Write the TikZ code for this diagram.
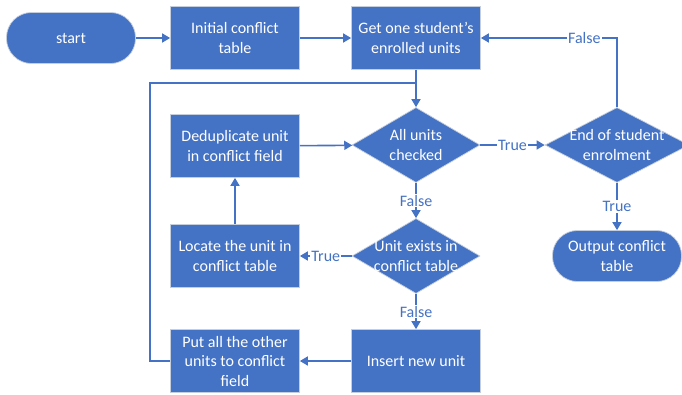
\documentclass[tikz,border=0pt]{standalone}
\usepackage{fontspec}
\setmainfont{Carlito}
\usepackage{tikz}
\usetikzlibrary{shapes.geometric,arrows.meta}
\definecolor{flowblue}{HTML}{4472C4}
\definecolor{boxedge}{HTML}{C5CEDC}
\newcommand{\flowfont}{\fontsize{16}{19.5}\selectfont}
\tikzset{>={Triangle[length=8pt,width=9pt]}}
\tikzset{
  procbox/.style={rectangle,fill=flowblue,draw=boxedge,line width=0.7pt,
    minimum width=129pt,minimum height=63pt,inner sep=2pt,
    text=white,align=center,font=\flowfont},
  terminal/.style={procbox,rounded corners=25pt,minimum height=51pt},
  decision/.style={diamond,fill=flowblue,draw=boxedge,line width=0.7pt,
    inner sep=0pt,minimum width=128pt,minimum height=75pt},
  diamtext/.style={text=white,align=center,font=\flowfont,inner sep=0pt},
  flowline/.style={draw=flowblue,line width=1.6pt},
  condlabel/.style={fill=white,text=flowblue,font=\flowfont,inner sep=1pt}
}

\begin{document}
\begin{tikzpicture}[x=1pt,y=-1pt]
    \useasboundingbox (0,0) rectangle (682,394);
    % top row
    \node[terminal] (start) at (71,38) {start};
    \node[procbox] (init) at (235,38) {Initial conflict\\table};
    \node[procbox] (getunits) at (416,38) {Get one student’s\\enrolled units};
    % checks
    \node[decision,label={[diamtext]center:{All units\\checked}}] (allchk) at (416,145) {};
    \node[decision,minimum width=144pt,label={[diamtext]center:{End of student\\enrolment}}] (endenrol) at (617,145) {};
    \node[decision,label={[diamtext]center:{Unit exists in\\conflict table}}] (exists) at (416,256) {};
    % left column
    \node[procbox] (dedup) at (235,146) {Deduplicate unit\\in conflict field};
    \node[procbox] (locate) at (235,256) {Locate the unit in\\conflict table};
    \node[procbox] (putall) at (235,361) {Put all the other\\units to conflict\\field};
    \node[procbox] (insert) at (416,361) {Insert new unit};
    \node[terminal] (output) at (617,256) {Output conflict\\table};
    \coordinate (loopcorner) at (150,83);
    \coordinate (loopjoin) at (416,83);

    \draw[flowline,->] (start) -- (init);
    \draw[flowline,->] (init) -- (getunits);
    \draw[flowline] (putall.west) -| (loopcorner) -- (loopjoin);
    \draw[flowline,->] (getunits) -- (allchk);
    \draw[flowline,->] (dedup) -- (allchk);
    \draw[flowline,->] (allchk) -- node[condlabel] {True} (endenrol);
    \draw[flowline,->] (endenrol.north) |- node[condlabel,pos=0.62] {False} (getunits.east);
    \draw[flowline,->] (endenrol) -- node[condlabel] {True} (output);
    \draw[flowline,->] (allchk) -- node[condlabel] {False} (exists);
    \draw[flowline,->] (exists) -- node[condlabel] {True} (locate);
    \draw[flowline,->] (locate) -- (dedup);
    \draw[flowline,->] (exists) -- node[condlabel] {False} (insert);
    \draw[flowline,->] (insert) -- (putall);
\end{tikzpicture}
\end{document}
